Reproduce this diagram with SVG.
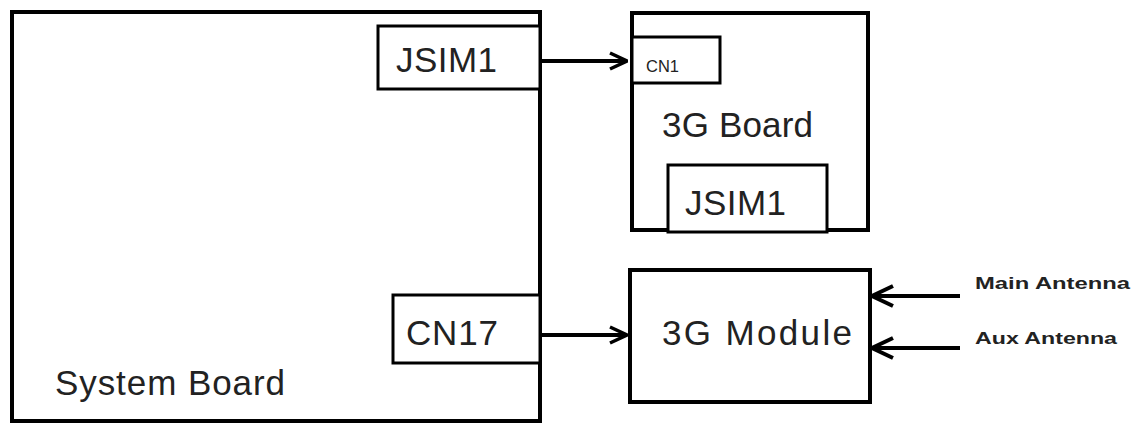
<svg xmlns="http://www.w3.org/2000/svg" width="1140" height="425" viewBox="0 0 1140 425">
<style>
.box{fill:#fff;stroke:#000;stroke-width:4}
.sub{fill:#fff;stroke:#000;stroke-width:3}
.t{font-family:"Liberation Sans",Arial,sans-serif;font-size:35px;fill:#222}
.s{font-family:"Liberation Sans",Arial,sans-serif;font-size:17px;font-weight:bold;fill:#222}
.c{stroke:#000;stroke-width:4;fill:none}
</style>
<defs>
<marker id="arr" viewBox="0 0 20 20" refX="19" refY="10" markerWidth="20" markerHeight="20" markerUnits="userSpaceOnUse" orient="auto">
<path d="M2,2 L19,10 L2,18" fill="none" stroke="#000" stroke-width="3.5"/>
</marker>
<marker id="arrL" viewBox="0 0 24 24" refX="23" refY="12" markerWidth="24" markerHeight="24" markerUnits="userSpaceOnUse" orient="auto">
<path d="M2,2 L23,12 L2,22" fill="none" stroke="#000" stroke-width="4"/>
</marker>
</defs>
<g id="system-board">
<rect class="box" x="12" y="12" width="528" height="409"/>
<text class="t" x="55" y="395" textLength="230">System Board</text>
</g>
<g id="jsim1-sys">
<rect class="sub" x="378" y="26" width="162" height="63"/>
<text class="t" x="396" y="72" textLength="101">JSIM1</text>
</g>
<g id="cn17">
<rect class="sub" x="393" y="295" width="147" height="68"/>
<text class="t" x="406" y="345" textLength="92">CN17</text>
</g>
<g id="board-3g">
<rect class="box" x="632" y="13" width="236" height="217"/>
<text class="t" x="662" y="137" textLength="151">3G Board</text>
</g>
<g id="cn1">
<rect class="sub" x="632" y="37" width="88" height="46"/>
<text class="t" x="646" y="72" style="font-size:17px" lengthAdjust="spacingAndGlyphs" textLength="33">CN1</text>
</g>
<g id="jsim1-3g">
<rect class="sub" x="668" y="165" width="159" height="67"/>
<text class="t" x="685" y="215" textLength="101">JSIM1</text>
</g>
<g id="module-3g">
<rect class="box" x="630" y="270" width="240" height="132"/>
<text class="t" x="662" y="345" textLength="190">3G Module</text>
</g>
<g id="main-antenna">
<text class="s" x="975" y="289" lengthAdjust="spacingAndGlyphs" textLength="155">Main Antenna</text>
</g>
<g id="aux-antenna">
<text class="s" x="975" y="344" lengthAdjust="spacingAndGlyphs" textLength="142">Aux Antenna</text>
</g>
<g id="connectors">
<line class="c" x1="540" y1="61" x2="627" y2="61" marker-end="url(#arr)"/>
<line class="c" x1="540" y1="335" x2="627" y2="335" marker-end="url(#arr)"/>
<line class="c" x1="960" y1="296" x2="872" y2="296" marker-end="url(#arrL)"/>
<line class="c" x1="960" y1="348" x2="872" y2="348" marker-end="url(#arrL)"/>
</g>
</svg>
